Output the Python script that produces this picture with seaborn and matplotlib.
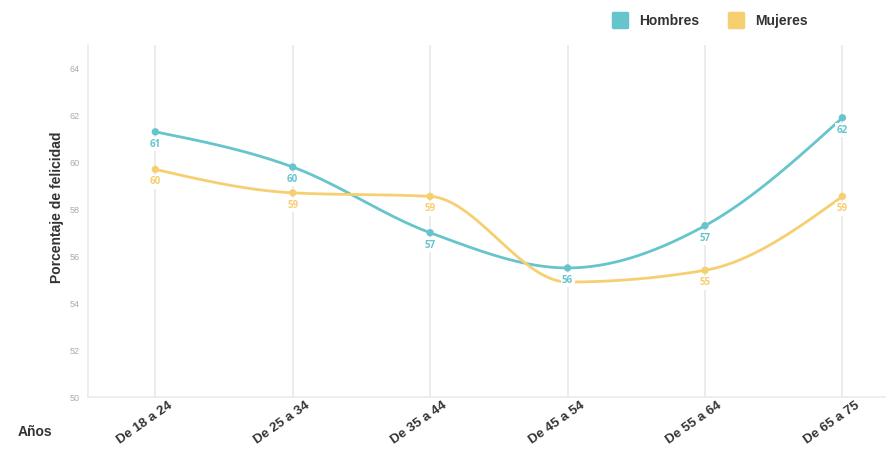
import numpy as np
import pandas as pd
import matplotlib
matplotlib.use("Agg")
import matplotlib.pyplot as plt
import matplotlib.transforms as mtransforms
from matplotlib.lines import Line2D
from matplotlib.markers import MarkerStyle
import seaborn as sns

# data
grupos = ["De 18 a 24", "De 25 a 34", "De 35 a 44", "De 45 a 54", "De 55 a 64", "De 65 a 75"]
hombres = [61.3, 59.8, 57.0, 55.5, 57.3, 61.9]
mujeres = [59.7, 58.7, 58.55, 54.9, 55.4, 58.55]
series = ["Hombres", "Mujeres"]
colores = {"Hombres": "#66C5CC", "Mujeres": "#F6CF71"}


def monotone_tangents(y):
    # tangents of a monotone cubic (same idea as d3 curveMonotoneX), unit spacing
    y = np.asarray(y, dtype=float)
    s = np.diff(y)
    t = np.zeros_like(y)
    for i in range(1, len(y) - 1):
        s0, s1 = s[i - 1], s[i]
        p = (s0 + s1) / 2
        t[i] = (np.sign(s0) + np.sign(s1)) * min(abs(s0), abs(s1), 0.5 * abs(p))
    t[0] = (3 * s[0] - t[1]) / 2
    t[-1] = (3 * s[-1] - t[-2]) / 2
    return t


def smooth_curve(y, n=60):
    # dense hermite rendering of the line between the data points
    y = np.asarray(y, dtype=float)
    t = monotone_tangents(y)
    xs, ys = [], []
    for i in range(len(y) - 1):
        u = np.linspace(0, 1, n, endpoint=(i == len(y) - 2))
        h00 = 2 * u**3 - 3 * u**2 + 1
        h10 = u**3 - 2 * u**2 + u
        h01 = -2 * u**3 + 3 * u**2
        h11 = u**3 - u**2
        xs.append(i + u)
        ys.append(h00 * y[i] + h10 * t[i] + h01 * y[i + 1] + h11 * t[i + 1])
    return np.concatenate(xs), np.concatenate(ys)


puntos = pd.DataFrame({
    "x": list(range(len(grupos))) * 2,
    "valor": hombres + mujeres,
    "sexo": ["Hombres"] * len(grupos) + ["Mujeres"] * len(grupos),
})

curvas = []
for nombre, vals in zip(series, [hombres, mujeres]):
    cx, cy = smooth_curve(vals)
    curvas.append(pd.DataFrame({"x": cx, "valor": cy, "sexo": nombre}))
curvas = pd.concat(curvas, ignore_index=True)

sns.set_style("white")
plt.rcParams["font.family"] = ["Liberation Sans", "DejaVu Sans"]

fig = plt.figure(figsize=(8.91, 4.63), dpi=100)
ax = fig.add_axes([88 / 891, 1 - 397 / 463, (885 - 88) / 891, (397 - 45) / 463])

sns.lineplot(data=curvas, x="x", y="valor", hue="sexo", palette=colores,
             linewidth=2.0, legend=False, ax=ax, sort=False, estimator=None, units="sexo")
sns.scatterplot(data=puntos, x="x", y="valor", hue="sexo", palette=colores,
                s=28, edgecolor="none", legend=False, ax=ax, zorder=5)

# value labels under each point; hide a label that would collide with the other series
for i in range(len(grupos)):
    for nombre, vals, otra in [("Hombres", hombres, mujeres), ("Mujeres", mujeres, hombres)]:
        v = vals[i]
        if nombre == "Mujeres" and 0 < otra[i] - v < 1.0:
            continue
        ax.annotate(f"{int(np.floor(v + 0.5))}", (i, v), xytext=(0, -9),
                    textcoords="offset points", ha="center", va="center",
                    fontsize=7, fontweight="bold", color=colores[nombre],
                    family=["Open Sans", "DejaVu Sans"], zorder=6,
                    bbox=dict(boxstyle="square,pad=0.15", fc="white", ec="none"))

ax.set_xlim(-0.49, 5.31)
ax.set_ylim(50, 65)
ax.set_yticks(np.arange(50, 65, 2))
ax.set_xticks(range(len(grupos)))
ax.set_xticklabels(grupos, rotation=35, ha="right", rotation_mode="anchor",
                   fontsize=9.5, fontweight="bold", color="#333333")
ax.tick_params(axis="x", length=0, pad=2)
ax.tick_params(axis="y", length=3, width=0.6, color="#dddddd", labelsize=6.5,
               labelcolor="#aaaaaa", pad=3)
offset = mtransforms.ScaledTranslation(12 / 100, 0, fig.dpi_scale_trans)
for lab in ax.get_xticklabels():
    lab.set_transform(lab.get_transform() + offset)

ax.grid(axis="x", color="#ebebeb", linewidth=1.3)
ax.grid(axis="y", visible=False)
ax.set_axisbelow(True)
for side in ["top", "right"]:
    ax.spines[side].set_visible(False)
for side in ["left", "bottom"]:
    ax.spines[side].set_color("#ebebeb")
    ax.spines[side].set_linewidth(1.2)
ax.set_xlabel("")
ax.set_ylabel("")

fig.text(57 / 891, 1 - 207 / 463, "Porcentaje de felicidad", rotation=90,
         ha="center", va="center", fontsize=10, fontweight="bold", color="#333333")
fig.text(35 / 891, 1 - 432 / 463, "Años", ha="center", va="center",
         fontsize=10, fontweight="bold", color="#333333")

marca = MarkerStyle("s", joinstyle="round")
handles = [Line2D([0], [0], marker=marca, linestyle="none", markersize=9.5,
                  markeredgewidth=2.5, markerfacecolor=colores[s],
                  markeredgecolor=colores[s]) for s in series]
fig.legend(handles, series, loc="center", bbox_to_anchor=(707 / 891, 1 - 21 / 463),
           ncol=2, frameon=False, prop={"weight": "bold", "size": 10},
           labelcolor="#333333", handletextpad=0.4, columnspacing=1.6)

fig.savefig("out.png", dpi=100)
